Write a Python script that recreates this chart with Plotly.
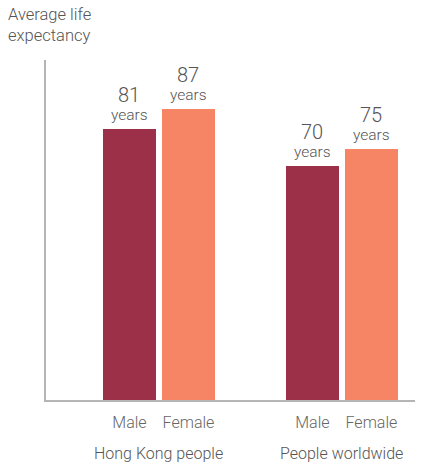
import plotly.graph_objects as go

groups = ["Hong Kong people", "People worldwide"]
sexes = ["Male", "Female"]
values = [[81, 87], [70, 75]]
unit_label = "years"
colors = {"Male": "#9c3049", "Female": "#f58565"}

GROUP_STEP = 3.1
FONT = "Roboto, Liberation Sans, Arial, sans-serif"

fig = go.Figure()
tickvals, ticktext = [], []
annotations = []
for gi, g in enumerate(groups):
    center = 1.915 + gi * GROUP_STEP
    for si, s in enumerate(sexes):
        x = center + (si - 0.5)
        v = values[gi][si]
        fig.add_trace(go.Bar(x=[x], y=[v], width=0.9, marker_color=colors[s],
                             marker_line_width=0, showlegend=False, hoverinfo="skip"))
        tickvals.append(x)
        ticktext.append(s)
        annotations.append(dict(x=x, y=v, xref="x", yref="y", yanchor="bottom",
                                text=unit_label, showarrow=False, yshift=3,
                                font=dict(family=FONT, size=15.5, color="#555555", weight=300)))
        annotations.append(dict(x=x, y=v, xref="x", yref="y", yanchor="bottom",
                                text=str(v), showarrow=False, yshift=20,
                                font=dict(family=FONT, size=20, color="#555555", weight=300)))
    annotations.append(dict(x=center, y=0, xref="x", yref="y", yanchor="top", yshift=-42,
                            text=g, showarrow=False,
                            font=dict(family=FONT, size=16, color="#555555", weight=300)))

annotations.append(dict(x=0, y=1, xref="paper", yref="paper", xanchor="left", yanchor="top",
                        text="Average life<br>expectancy", align="left", showarrow=False,
                        xshift=-40, yshift=57,
                        font=dict(family=FONT, size=16.5, color="#555555", weight=300)))

fig.update_layout(
    width=430, height=463,
    margin=dict(l=46, r=15, t=60, b=63),
    paper_bgcolor="white", plot_bgcolor="white",
    bargap=0,
    annotations=annotations,
    xaxis=dict(range=[0, 6.254], tickvals=tickvals, ticktext=ticktext,
               showline=True, linecolor="#b5b5b5", linewidth=2, showgrid=False,
               zeroline=False, ticks="", ticklen=0, ticklabelstandoff=7,
               tickfont=dict(family=FONT, size=16, color="#666666", weight=300)),
    yaxis=dict(range=[0, 101.5], showline=True, linecolor="#b5b5b5", linewidth=2,
               showgrid=False, zeroline=False, showticklabels=False, ticks=""),
)
fig.write_html("out.html")
